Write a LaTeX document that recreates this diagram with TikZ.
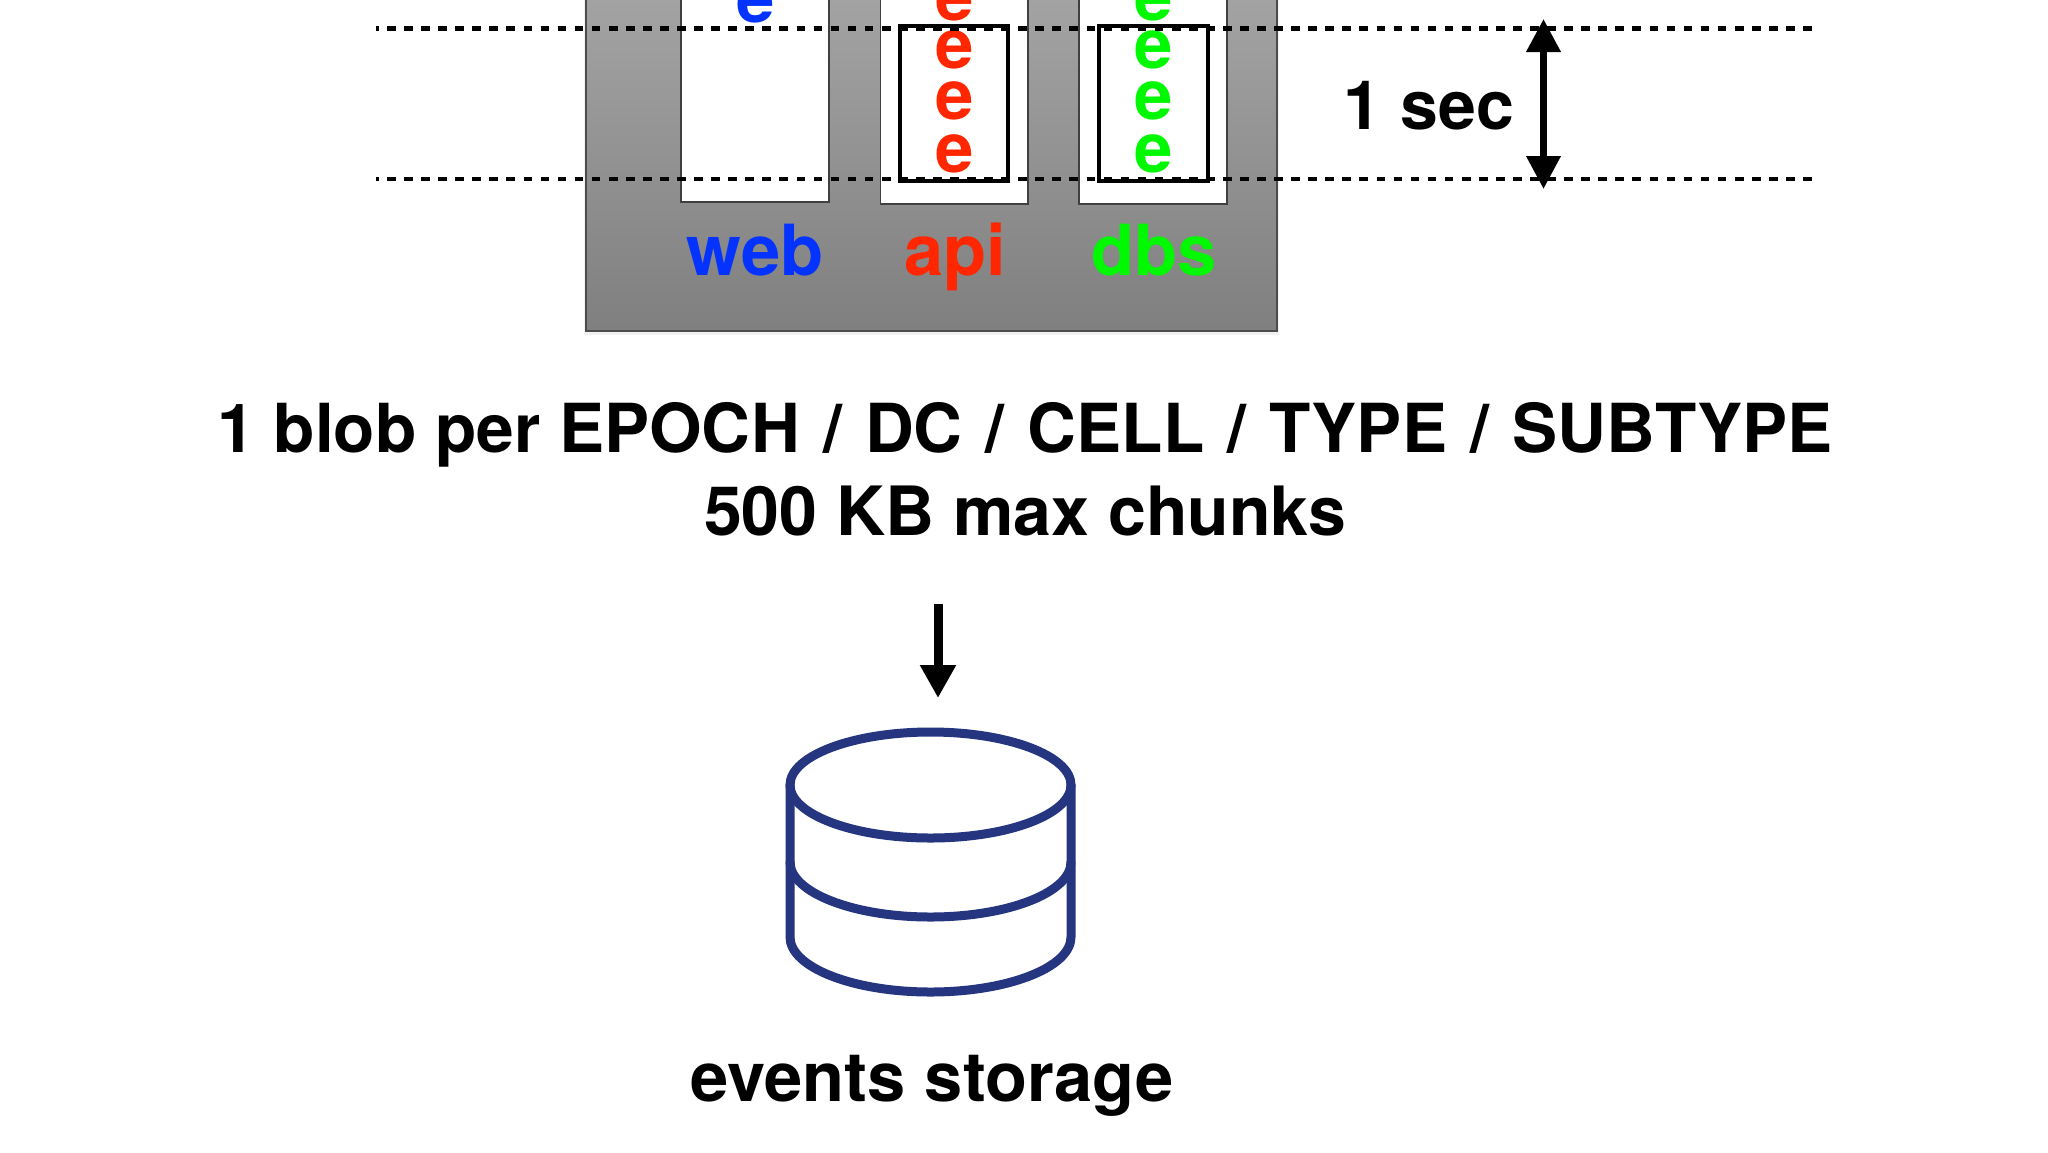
\documentclass[tikz,border=0pt]{standalone}
\usepackage{fontspec}
\setmainfont{TeX Gyre Heros}
\usetikzlibrary{arrows.meta}
\definecolor{cblue}{HTML}{0433FF}
\definecolor{cred}{HTML}{FF2600}
\definecolor{cgreen}{HTML}{00F900}
\definecolor{cyl}{HTML}{25357F}
\newcommand{\slashgap}{\hskip4.4pt\ /\ \hskip4.4pt}
\tikzset{
  x=1pt,y=-1pt,
  every node/.style={inner sep=0pt,outer sep=0pt,font=\bfseries},
  slot/.style={draw=black!75,line width=1.5pt,fill=white},
  win/.style={draw=black,line width=4pt},
  evt/.style={anchor=base,font=\fontsize{69}{69}\selectfont\bfseries},
  lbl/.style={anchor=base,font=\fontsize{70.5}{70.5}\selectfont\bfseries},
  sectxt/.style={anchor=base,font=\fontsize{68}{68}\selectfont\bfseries},
  big/.style={anchor=base,font=\fontsize{67.6}{67.6}\selectfont\bfseries},
  mid/.style={anchor=base,font=\fontsize{68}{68}\selectfont\bfseries},
  dashline/.style={line width=4.8pt,dash pattern=on 8.7pt off 8.36pt,dash phase=6pt,black},
  span/.style={line width=7pt,{Triangle[length=33pt,width=33pt]}-{Triangle[length=33pt,width=33pt]}},
  down/.style={line width=9pt,-{Triangle[length=33pt,width=34pt]}},
  cylline/.style={draw=cyl,line width=9pt,line cap=round},
}
\begin{document}
\begin{tikzpicture}
\useasboundingbox (0,0) rectangle (2048,1152);
\fill[white] (0,0) rectangle (2048,1152);
% panel
\fill[black!5] (584,-5) rectangle (1279,335);
\shade[top color=black!36,bottom color=black!50] (586,-3) rectangle (1277,331);
\draw[black!70,line width=1.5pt] (586,-3) rectangle (1277,331);
% slots
\draw[slot] (681,-5) rectangle (829,202);
\draw[slot] (880.5,-5) rectangle (1028,204);
\draw[slot] (1079,-5) rectangle (1227,204);
% events
\node[evt,text=cblue] (w1) at (755.5,22) {e};
\foreach \n/\y in {1/20,2/68.5,3/119,4/172.5}{
  \node[evt,text=cred] (a\n) at (954.5,\y) {e};
  \node[evt,text=cgreen] (d\n) at (1153.5,\y) {e};
}
% labels
\node[lbl,text=cblue] (web) at (755,275) {web};
\node[lbl,text=cred] (api) at (955,275) {api};
\node[lbl,text=cgreen] (dbs) at (1154,275) {dbs};
% windows
\draw[win] (900,26.3) rectangle (1008,181);
\draw[win] (1099,26.3) rectangle (1208,181);
% dashed
\coordinate (t0) at (376,28.7); \coordinate (t1) at (1812,28.7);
\coordinate (b0) at (376,179); \coordinate (b1) at (1812,179);
\draw[dashline] (t0) -- (t1);
\draw[dashline] (b0) -- (b1);
% span arrow
\coordinate (s0) at (1543.5,19); \coordinate (s1) at (1543.5,189);
\draw[span] (s0) -- (s1);
\node[sectxt] (sec) at (1429,129) {1 sec};
% text
\node[big] (l1) at (1025,452) {1 blob per EPOCH\slashgap DC\slashgap CELL\slashgap TYPE\slashgap SUBTYPE};
\node[mid] (l2) at (1025,535) {500 KB max chunks};
% arrow
\coordinate (a0) at (938,604); \coordinate (a1) at (938,698);
\draw[down] (a0) -- (a1);
% cylinder
\draw[cylline] (930.5,785) ellipse [x radius=140.5,y radius=53];
\draw[cylline] (790,785) -- (790,937) arc[start angle=180,end angle=0,x radius=140.5,y radius=55] -- (1071,785);
\draw[cylline] (790,862) arc[start angle=180,end angle=0,x radius=140.5,y radius=55];
\node[mid,font=\fontsize{68.7}{68.7}\selectfont\bfseries] (st) at (932,1101) {events storage};
\end{tikzpicture}
\end{document}
